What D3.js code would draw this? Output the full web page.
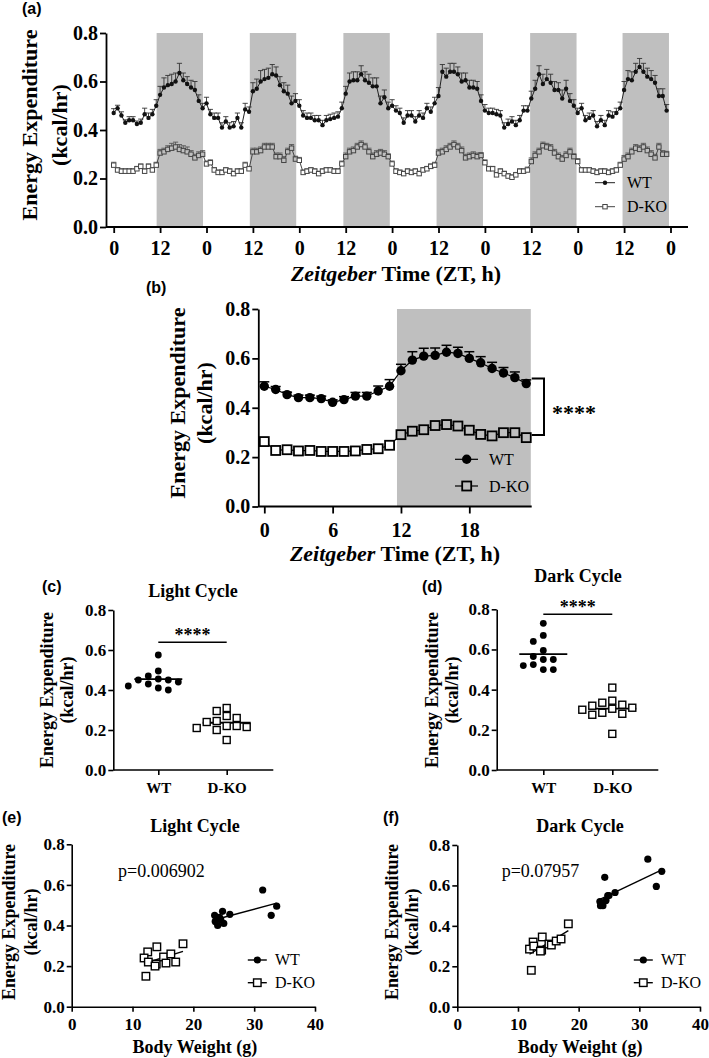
<!DOCTYPE html>
<html><head><meta charset="utf-8">
<script src="https://cdn.jsdelivr.net/npm/d3@7/dist/d3.min.js"></script>
<style>body{margin:0;background:#fff}svg{display:block}</style>
</head><body>
<svg id="c" width="709" height="1058"></svg>
<script>
// ---------- DATA ----------
// Panel (a): hourly energy expenditure over 6 days (ZT index 0..143)
const wtA = [
0.47,0.49,0.46,0.43,0.44,0.44,0.425,0.43,0.465,0.45,0.465,0.50,
0.545,0.575,0.585,0.59,0.60,0.635,0.605,0.59,0.575,0.565,0.52,0.49,
0.51,0.465,0.45,0.45,0.41,0.435,0.41,0.415,0.45,0.41,0.485,0.475,
0.56,0.57,0.60,0.61,0.615,0.63,0.625,0.585,0.56,0.55,0.51,0.52,
0.50,0.46,0.45,0.45,0.44,0.44,0.42,0.44,0.445,0.45,0.455,0.49,
0.55,0.60,0.605,0.605,0.63,0.605,0.595,0.58,0.58,0.51,0.535,0.49,
0.50,0.48,0.47,0.43,0.46,0.46,0.435,0.46,0.45,0.49,0.475,0.51,
0.54,0.64,0.62,0.64,0.64,0.63,0.60,0.605,0.575,0.575,0.57,0.52,
0.48,0.47,0.47,0.465,0.46,0.41,0.425,0.435,0.42,0.44,0.48,0.48,
0.53,0.57,0.63,0.59,0.61,0.595,0.565,0.565,0.53,0.57,0.52,0.50,
0.47,0.49,0.44,0.45,0.46,0.415,0.44,0.42,0.46,0.455,0.47,0.49,
0.565,0.61,0.605,0.64,0.66,0.64,0.62,0.61,0.595,0.54,0.54,0.48];
const koA = [
0.255,0.235,0.23,0.23,0.23,0.23,0.24,0.25,0.23,0.25,0.235,0.255,
0.305,0.31,0.32,0.325,0.33,0.32,0.315,0.31,0.30,0.285,0.295,0.30,
0.26,0.265,0.235,0.225,0.225,0.235,0.23,0.22,0.23,0.23,0.255,0.24,
0.31,0.31,0.315,0.33,0.33,0.33,0.29,0.29,0.275,0.31,0.325,0.28,
0.275,0.225,0.23,0.235,0.23,0.22,0.23,0.235,0.235,0.23,0.23,0.26,
0.29,0.31,0.315,0.33,0.34,0.33,0.31,0.29,0.30,0.305,0.30,0.29,
0.26,0.23,0.225,0.22,0.23,0.225,0.23,0.22,0.235,0.24,0.25,0.255,
0.305,0.31,0.32,0.33,0.34,0.33,0.315,0.285,0.29,0.295,0.29,0.295,
0.265,0.24,0.24,0.215,0.23,0.22,0.21,0.205,0.215,0.23,0.23,0.235,
0.27,0.295,0.31,0.335,0.33,0.325,0.305,0.29,0.28,0.295,0.31,0.29,
0.27,0.235,0.235,0.235,0.23,0.225,0.23,0.23,0.225,0.23,0.235,0.255,
0.28,0.29,0.31,0.325,0.32,0.33,0.315,0.30,0.285,0.33,0.30,0.30];
const wtSemA = [
0.018,0.012,0.015,0.012,0.015,0.015,0.012,0.015,0.025,0.02,0.02,0.025,
0.035,0.04,0.04,0.04,0.035,0.04,0.03,0.03,0.03,0.035,0.025,0.02,
0.025,0.02,0.02,0.02,0.02,0.02,0.02,0.02,0.02,0.02,0.025,0.02,
0.035,0.04,0.045,0.04,0.04,0.04,0.035,0.035,0.035,0.035,0.03,0.03,
0.025,0.02,0.02,0.02,0.02,0.02,0.02,0.02,0.02,0.02,0.02,0.025,
0.03,0.035,0.035,0.035,0.035,0.035,0.035,0.035,0.035,0.03,0.03,0.025,
0.025,0.02,0.02,0.02,0.02,0.02,0.02,0.02,0.02,0.02,0.02,0.025,
0.035,0.03,0.035,0.035,0.035,0.03,0.035,0.03,0.03,0.03,0.03,0.025,
0.025,0.02,0.02,0.02,0.02,0.02,0.02,0.02,0.02,0.02,0.02,0.02,
0.03,0.035,0.035,0.04,0.04,0.035,0.035,0.03,0.035,0.035,0.03,0.025,
0.02,0.02,0.02,0.02,0.02,0.02,0.02,0.02,0.02,0.02,0.02,0.025,
0.035,0.035,0.035,0.035,0.035,0.035,0.035,0.035,0.03,0.03,0.03,0.025];
const koSemA = [
0.012,0.01,0.01,0.01,0.01,0.01,0.01,0.01,0.01,0.01,0.01,0.012,
0.015,0.015,0.015,0.02,0.02,0.02,0.02,0.02,0.015,0.015,0.015,0.015,
0.012,0.012,0.01,0.01,0.01,0.01,0.01,0.01,0.01,0.01,0.012,0.01,
0.015,0.015,0.015,0.015,0.015,0.015,0.015,0.015,0.015,0.015,0.015,0.012,
0.012,0.01,0.01,0.01,0.01,0.01,0.01,0.01,0.01,0.01,0.01,0.012,
0.015,0.015,0.015,0.015,0.015,0.015,0.015,0.015,0.015,0.015,0.015,0.012,
0.012,0.01,0.01,0.01,0.01,0.01,0.01,0.01,0.01,0.01,0.01,0.012,
0.015,0.015,0.015,0.015,0.015,0.015,0.015,0.015,0.015,0.015,0.015,0.012,
0.012,0.01,0.01,0.01,0.01,0.01,0.01,0.01,0.01,0.01,0.01,0.012,
0.015,0.015,0.015,0.015,0.015,0.015,0.015,0.015,0.015,0.015,0.015,0.012,
0.012,0.01,0.01,0.01,0.01,0.01,0.01,0.01,0.01,0.01,0.01,0.012,
0.015,0.015,0.015,0.015,0.015,0.015,0.015,0.015,0.015,0.015,0.015,0.012];
const darkStartsA = [11.1, 35.2, 59.4, 83.5, 107.7, 131.6];   // dark-phase shading starts (ZT)
const darkLen = 12;
const ztTicksA = [0,12,24,36,48,60,72,84,96,108,120,132,144];

// Panel (b): 24-h average profile
const hoursB = [0,1,2,3,4,5,6,7,8,9,10,11,12,13,14,15,16,17,18,19,20,21,22,23];
const wtB = [0.487,0.474,0.453,0.441,0.441,0.437,0.422,0.433,0.447,0.447,0.468,0.487,
             0.55,0.593,0.609,0.612,0.625,0.62,0.60,0.582,0.559,0.541,0.522,0.498];
const koB = [0.263,0.227,0.23,0.225,0.227,0.223,0.223,0.223,0.225,0.231,0.234,0.248,
             0.291,0.305,0.311,0.328,0.332,0.326,0.309,0.292,0.286,0.299,0.299,0.279];
const wtSemB = [0.018,0.012,0.01,0.01,0.01,0.01,0.01,0.012,0.015,0.015,0.02,0.027,
                0.026,0.034,0.032,0.03,0.028,0.025,0.027,0.025,0.025,0.022,0.023,0.015];
const darkB = [11.65, 23.4];
const ztTicksB = [0,6,12,18];
const bracketB = [0.518, 0.29];

// Panels (c)-(f): per-mouse values
const groups = ["WT","D-KO"];
const bwWT    = [31.4,33.7,32.8,26.0,24.8,24.3,23.5,23.6,24.0,24.5,25.0];
const lightWT = [0.575,0.495,0.45,0.455,0.47,0.44,0.45,0.42,0.40,0.43,0.41];
const darkWT  = [0.73,0.67,0.595,0.565,0.55,0.64,0.52,0.50,0.50,0.525,0.55];
const bwKO    = [12.5,14.0,18.3,11.9,12.6,13.9,13.7,15.1,15.5,16.3,17.1,12.2];
const lightKO = [0.27,0.295,0.31,0.24,0.22,0.21,0.20,0.245,0.215,0.26,0.22,0.15];
const darkKO  = [0.32,0.345,0.41,0.285,0.30,0.28,0.275,0.31,0.305,0.325,0.335,0.18];
const pTexts = ["p=0.006902","p=0.07957"];
const eeTicks = [0,0.2,0.4,0.6,0.8];
const bwTicks = [0,10,20,30,40];

// ---------- DRAWING ----------
const SERIF = "'Liberation Serif','Times New Roman',Times,serif";
const SANS = "'Liberation Sans',Arial,Helvetica,sans-serif";
const BAND = "#bfbfbf";
const svg = d3.select("#c");
const f1 = d3.format(".1f");

function styleAxis(g, size, sw) {
  g.attr("font-family", SERIF).attr("font-size", size).attr("font-weight", "bold");
  g.selectAll("path,line").attr("stroke", "#000").attr("stroke-width", sw);
  g.selectAll("text").attr("fill", "#000");
}
function txt(x, y, s, size, opt = {}) {
  return svg.append("text").attr("x", x).attr("y", y).text(s)
    .attr("font-family", opt.family || SERIF).attr("font-size", size)
    .attr("font-weight", opt.weight || "bold").attr("font-style", opt.style || "normal")
    .attr("text-anchor", opt.anchor || "start").attr("fill", "#000");
}
function yTitle(cx1, cx2, cy, size) {
  [["Energy Expenditure", cx1], ["(kcal/hr)", cx2]].forEach(([t, cx]) => {
    svg.append("text").attr("transform", `translate(${cx},${cy}) rotate(-90)`)
      .attr("text-anchor", "middle").attr("dy", "0.33em")
      .attr("font-family", SERIF).attr("font-size", size).attr("font-weight", "bold").text(t);
  });
}
function zeitTitle(cx, y, size) {
  const t = svg.append("text").attr("x", cx).attr("y", y).attr("text-anchor", "middle")
    .attr("font-family", SERIF).attr("font-size", size).attr("font-weight", "bold");
  t.append("tspan").attr("font-style", "italic").text("Zeitgeber");
  t.append("tspan").text(" Time (ZT, h)");
}
function square(g, cx, cy, s, fill, stroke, sw) {
  g.append("rect").attr("x", cx - s / 2).attr("y", cy - s / 2).attr("width", s).attr("height", s)
    .attr("fill", fill).attr("stroke", stroke).attr("stroke-width", sw);
}
function errBars(g, xs, ys, vals, sems, cap, color, sw) {
  vals.forEach((v, i) => {
    const x = xs(i), y0 = ys(v), y1 = ys(v + sems[i]);
    g.append("line").attr("x1", x).attr("x2", x).attr("y1", y0).attr("y2", y1).attr("stroke", color).attr("stroke-width", sw);
    g.append("line").attr("x1", x - cap).attr("x2", x + cap).attr("y1", y1).attr("y2", y1).attr("stroke", color).attr("stroke-width", sw);
  });
}

// ===== Panel (a) =====
{
  const x = d3.scaleLinear().domain([0, 144]).range([113.7, 670.5]);
  const y = d3.scaleLinear().domain([0, 0.8]).range([227, 33]);
  const g = svg.append("g");
  const inBand = t => darkStartsA.some(s => t >= s && t <= s + darkLen);
  darkStartsA.forEach(s => g.append("rect").attr("x", x(s)).attr("y", y(0.8))
    .attr("width", x(s + darkLen) - x(s)).attr("height", y(0) - y(0.8)).attr("fill", BAND));
  const xi = i => x(i);
  errBars(g, xi, y, wtA, wtSemA, 2.6, "#333", 0.9);
  errBars(g, xi, y, koA, koSemA, 2.6, "#555", 0.9);
  const line = d3.line().x((d, i) => x(i)).y(d => y(d));
  g.append("path").datum(wtA).attr("d", line).attr("fill", "none").attr("stroke", "#222").attr("stroke-width", 1);
  g.append("path").datum(koA).attr("d", line).attr("fill", "none").attr("stroke", "#444").attr("stroke-width", 1);
  wtA.forEach((v, i) => g.append("circle").attr("cx", x(i)).attr("cy", y(v)).attr("r", 2.2).attr("fill", "#111"));
  koA.forEach((v, i) => square(g, x(i), y(v), 4.4, inBand(i) ? BAND : "#fff", "#444", 1));

  const ya = svg.append("g").attr("transform", "translate(106,0)")
    .call(d3.axisLeft(y).tickValues(eeTicks).tickFormat(f1).tickSize(6).tickPadding(2).tickSizeOuter(0));
  styleAxis(ya, 20, 1.8);
  const xa = svg.append("g").attr("transform", `translate(0,${y(0)})`)
    .call(d3.axisBottom(x).tickValues(ztTicksA).tickFormat(d => d % 24 === 0 ? "0" : "12").tickSize(6).tickPadding(7.8));
  xa.select(".domain").remove();
  styleAxis(xa, 20, 1.8);
  svg.append("line").attr("x1", 106).attr("x2", 688).attr("y1", y(0)).attr("y2", y(0)).attr("stroke", "#000").attr("stroke-width", 1.8);

  yTitle(30, 60, 125, 22);
  zeitTitle(396, 281, 22);
  txt(22, 13.5, "(a)", 16, { family: SANS });

  // legend
  svg.append("line").attr("x1", 595).attr("x2", 615).attr("y1", 182.7).attr("y2", 182.7).attr("stroke", "#222");
  svg.append("circle").attr("cx", 605).attr("cy", 182.7).attr("r", 2.2).attr("fill", "#111");
  txt(627, 188, "WT", 16, { weight: "normal" });
  svg.append("line").attr("x1", 595).attr("x2", 615).attr("y1", 206.7).attr("y2", 206.7).attr("stroke", "#444");
  square(svg, 605, 206.7, 4.4, "#fff", "#444", 1);
  txt(627, 212, "D-KO", 16, { weight: "normal" });
}

// ===== Panel (b) =====
{
  const x = d3.scaleLinear().domain([0, 18]).range([264.3, 469.3]);
  const y = d3.scaleLinear().domain([0, 0.8]).range([506.5, 309]);
  const g = svg.append("g");
  g.append("rect").attr("x", x(darkB[0])).attr("y", y(0.8)).attr("width", x(darkB[1]) - x(darkB[0]))
    .attr("height", y(0) - y(0.8)).attr("fill", BAND);
  const xi = i => x(hoursB[i]);
  errBars(g, xi, y, wtB, wtSemB, 5, "#000", 1.5);
  const line = d3.line().x((d, i) => x(hoursB[i])).y(d => y(d));
  g.append("path").datum(wtB).attr("d", line).attr("fill", "none").attr("stroke", "#000").attr("stroke-width", 1.2);
  g.append("path").datum(koB).attr("d", line).attr("fill", "none").attr("stroke", "#000").attr("stroke-width", 1.2);
  wtB.forEach((v, i) => g.append("circle").attr("cx", x(hoursB[i])).attr("cy", y(v)).attr("r", 4.7).attr("fill", "#000"));
  koB.forEach((v, i) => square(g, x(hoursB[i]), y(v), 9, (hoursB[i] >= darkB[0] ? BAND : "#fff"), "#000", 1.8));

  const ya = svg.append("g").attr("transform", "translate(258.3,0)")
    .call(d3.axisLeft(y).tickValues(eeTicks).tickFormat(f1).tickSize(6).tickPadding(2).tickSizeOuter(0));
  styleAxis(ya, 20, 1.8);
  const xa = svg.append("g").attr("transform", `translate(0,${y(0)})`)
    .call(d3.axisBottom(x).tickValues(ztTicksB).tickSize(7).tickPadding(9));
  xa.select(".domain").remove();
  styleAxis(xa, 20, 1.8);
  svg.append("line").attr("x1", 258.3).attr("x2", 531.7).attr("y1", y(0)).attr("y2", y(0)).attr("stroke", "#000").attr("stroke-width", 1.8);

  yTitle(178, 205, 403, 22);
  zeitTitle(395, 561, 22);
  txt(146, 292.6, "(b)", 16, { family: SANS });

  // bracket & significance
  const bx0 = 531.7, bx1 = 544;
  svg.append("path").attr("d", `M${bx0},${y(bracketB[0])}H${bx1}V${y(bracketB[1])}H${bx0}`)
    .attr("fill", "none").attr("stroke", "#000").attr("stroke-width", 2);
  txt(552, 420, "****", 22);

  // legend
  svg.append("line").attr("x1", 455).attr("x2", 478).attr("y1", 459.3).attr("y2", 459.3).attr("stroke", "#000").attr("stroke-width", 1.2);
  svg.append("circle").attr("cx", 466.7).attr("cy", 459.3).attr("r", 4.7).attr("fill", "#000");
  txt(489, 465, "WT", 16, { weight: "normal" });
  svg.append("line").attr("x1", 455).attr("x2", 478).attr("y1", 486).attr("y2", 486).attr("stroke", "#000").attr("stroke-width", 1.2);
  square(svg, 466.7, 486, 9, BAND, "#000", 1.8);
  txt(489, 491.5, "D-KO", 16, { weight: "normal" });
}

// ===== Panels (c), (d): scatter dot plots =====
function swarm(vals, ys, step, minDy) {
  const order = vals.map((v, i) => i).sort((a, b) => vals[b] - vals[a]);
  const placed = [], off = new Array(vals.length);
  order.forEach(i => {
    const py = ys(vals[i]);
    for (let k = 0; k < 20; k++) {
      const c = k === 0 ? 0 : (k % 2 ? -1 : 1) * Math.ceil(k / 2) * step;
      if (!placed.some(p => p.o === c && Math.abs(p.y - py) < minDy)) { off[i] = c; placed.push({ o: c, y: py }); break; }
    }
  });
  return off;
}
function dotPanel(o) {
  const x = d3.scalePoint().domain(groups).range([o.x0, o.x1]);
  const y = d3.scaleLinear().domain([0, 0.8]).range([770, o.yTop]);
  const g = svg.append("g");
  const sets = [o.wt, o.ko];
  sets.forEach((vals, gi) => {
    const off = swarm(vals, y, 10, 7.2);
    const cx = x(groups[gi]);
    const m = d3.mean(vals);
    g.append("line").attr("x1", cx - 24).attr("x2", cx + 24).attr("y1", y(m)).attr("y2", y(m)).attr("stroke", "#000").attr("stroke-width", 1.8);
    vals.forEach((v, i) => {
      if (gi === 0) g.append("circle").attr("cx", cx + off[i]).attr("cy", y(v)).attr("r", 3.4).attr("fill", "#000");
      else square(g, cx + off[i], y(v), 7, "#fff", "#000", 1.4);
    });
  });
  const ya = svg.append("g").attr("transform", `translate(${o.ax},0)`)
    .call(d3.axisLeft(y).tickValues(eeTicks).tickFormat(f1).tickSize(5).tickPadding(2).tickSizeOuter(0));
  styleAxis(ya, 17, 1.6);
  const xa = svg.append("g").attr("transform", "translate(0,770)")
    .call(d3.axisBottom(x).tickSize(5).tickPadding(7.6));
  xa.select(".domain").remove();
  styleAxis(xa, 15, 1.6);
  svg.append("line").attr("x1", o.ax).attr("x2", o.axEnd).attr("y1", 770).attr("y2", 770).attr("stroke", "#000").attr("stroke-width", 1.6);
  // significance
  svg.append("line").attr("x1", x(groups[0])).attr("x2", x(groups[1])).attr("y1", o.sigY).attr("y2", o.sigY).attr("stroke", "#000").attr("stroke-width", 1.6);
  txt((x(groups[0]) + x(groups[1])) / 2, o.sigY - 1.5, "****", 18, { anchor: "middle" });
  txt(o.tx, o.ty, o.title, 18, { anchor: "middle" });
  txt(o.lx, o.ly, o.letter, 16, { family: SANS });
  yTitle(o.yt1, o.yt2, 690, 18);
}
dotPanel({ wt: lightWT, ko: lightKO, x0: 158.3, x1: 226.7, yTop: 610, ax: 113.3, axEnd: 273.3, sigY: 642.3,
  title: "Light Cycle", tx: 193, ty: 597, letter: "(c)", lx: 42, ly: 591.6, yt1: 47, yt2: 67.5 });
dotPanel({ wt: darkWT, ko: darkKO, x0: 543.3, x1: 612.3, yTop: 609.3, ax: 496.7, axEnd: 658.3, sigY: 614.3,
  title: "Dark Cycle", tx: 578, ty: 581.7, letter: "(d)", lx: 422, ly: 591.6, yt1: 432.5, yt2: 452.5 });

// ===== Panels (e), (f): EE vs body weight =====
function fit(xs, ys) {
  const mx = d3.mean(xs), my = d3.mean(ys);
  const b = d3.sum(xs, (v, i) => (v - mx) * (ys[i] - my)) / d3.sum(xs, v => (v - mx) ** 2);
  return v => my + b * (v - mx);
}
function bwPanel(o) {
  const x = d3.scaleLinear().domain([0, 40]).range([o.ax, o.axEnd]);
  const y = d3.scaleLinear().domain([0, 0.8]).range([1006.7, o.yTop]);
  const g = svg.append("g");
  [[bwWT, o.wt], [bwKO, o.ko]].forEach(([bx, ee], gi) => {
    const f = fit(bx, ee);
    const [lo, hi] = d3.extent(bx);
    g.append("line").attr("x1", x(lo)).attr("x2", x(hi)).attr("y1", y(f(lo))).attr("y2", y(f(hi)))
      .attr("stroke", "#000").attr("stroke-width", 1.4);
    bx.forEach((b, i) => {
      if (gi === 0) g.append("circle").attr("cx", x(b)).attr("cy", y(ee[i])).attr("r", 3.6).attr("fill", "#000");
      else square(g, x(b), y(ee[i]), 7.5, "#fff", "#000", 1.4);
    });
  });
  const ya = svg.append("g").attr("transform", `translate(${o.ax},0)`)
    .call(d3.axisLeft(y).tickValues(eeTicks).tickFormat(f1).tickSize(5).tickPadding(2).tickSizeOuter(0));
  styleAxis(ya, 17, 1.6);
  const xa = svg.append("g").attr("transform", "translate(0,1006.7)")
    .call(d3.axisBottom(x).tickValues(bwTicks).tickSize(5).tickPadding(6.2).tickSizeOuter(0));
  styleAxis(xa, 17, 1.6);
  txt((o.ax + o.axEnd) / 2 + 1.5, 1053, "Body Weight (g)", 18, { anchor: "middle" });
  txt(o.tx, 831.7, o.title, 18, { anchor: "middle" });
  txt(o.lx, 822.5, o.letter, 16, { family: SANS });
  txt(o.px, 876.7, o.p, 18, { weight: "normal" });
  yTitle(o.yt1, o.yt2, 922, 18);
  // legend
  const lm = o.legX;
  svg.append("line").attr("x1", lm - 9.5).attr("x2", lm + 9.5).attr("y1", 960).attr("y2", 960).attr("stroke", "#000").attr("stroke-width", 1.4);
  svg.append("circle").attr("cx", lm).attr("cy", 960).attr("r", 3.6).attr("fill", "#000");
  txt(lm + 17.7, 965.3, "WT", 16, { weight: "normal" });
  svg.append("line").attr("x1", lm - 9.5).attr("x2", lm + 9.5).attr("y1", 982.7).attr("y2", 982.7).attr("stroke", "#000").attr("stroke-width", 1.4);
  square(svg, lm, 982.7, 7.5, "#fff", "#000", 1.4);
  txt(lm + 17.7, 988, "D-KO", 16, { weight: "normal" });
}
bwPanel({ wt: lightWT, ko: lightKO, ax: 71.7, axEnd: 315, yTop: 844.3, title: "Light Cycle", tx: 195,
  letter: "(e)", lx: 2, p: pTexts[0], px: 118, yt1: 9, yt2: 31, legX: 257.3 });
bwPanel({ wt: darkWT, ko: darkKO, ax: 457.3, axEnd: 700, yTop: 845, title: "Dark Cycle", tx: 580,
  letter: "(f)", lx: 383, p: pTexts[1], px: 501.7, yt1: 392.5, yt2: 411.7, legX: 643.3 });
</script>
</body></html>
